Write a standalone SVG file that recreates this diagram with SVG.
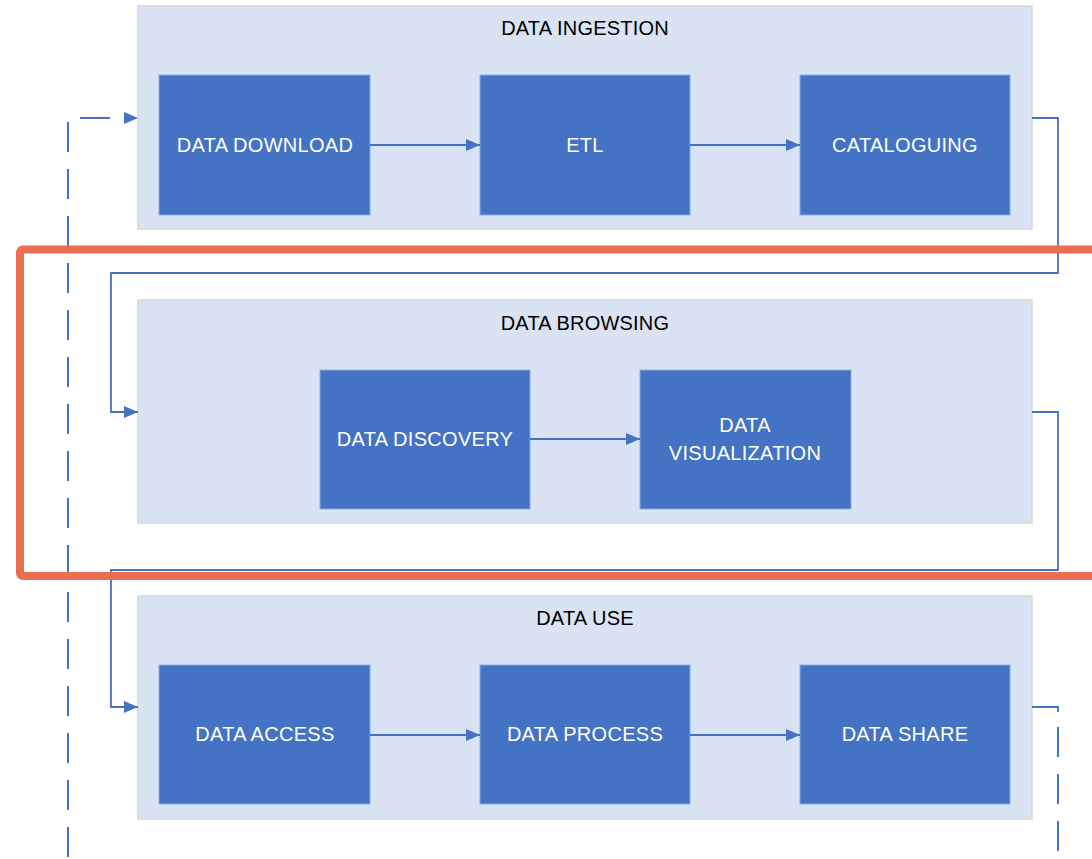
<svg xmlns="http://www.w3.org/2000/svg" width="1092" height="859" viewBox="0 0 1092 859">
  <style>
    .group { fill: #DAE3F3; stroke: #D3D6DC; stroke-width: 1.5; }
    .step { fill: #4472C4; stroke: #8FA9DC; stroke-width: 1; }
    .title { font-family: "Liberation Sans", Arial, sans-serif; font-size: 20px; letter-spacing: 0.2px; fill: #000; text-anchor: middle; }
    .label { font-family: "Liberation Sans", Arial, sans-serif; font-size: 20px; letter-spacing: 0.3px; fill: #fff; text-anchor: middle; }
    .flow { fill: none; stroke: #4472C4; stroke-width: 1.8; }
    .dash { fill: none; stroke: #4472C4; stroke-width: 2; stroke-dasharray: 30 17; }
    .focus { fill: none; stroke: #EB6E50; stroke-width: 8; }
  </style>
  <defs>
    <marker id="arrow" viewBox="0 0 14 12" refX="14" refY="6" markerWidth="14" markerHeight="12" markerUnits="userSpaceOnUse" orient="auto">
      <path d="M0,0 L14,6 L0,12 Z" fill="#4472C4"/>
    </marker>
  </defs>

  <rect width="1092" height="859" fill="#fff"/>

  <!-- Stage: ingestion -->
  <g id="data-ingestion">
    <rect class="group" x="138" y="6" width="894" height="223"/>
    <text class="title" x="585" y="35">DATA INGESTION</text>
  </g>
  <g id="data-download">
    <rect class="step" x="159" y="75" width="211" height="140"/>
    <text class="label" x="265" y="152">DATA DOWNLOAD</text>
  </g>
  <g id="etl">
    <rect class="step" x="480" y="75" width="210" height="140"/>
    <text class="label" x="585" y="152">ETL</text>
  </g>
  <g id="cataloguing">
    <rect class="step" x="800" y="75" width="210" height="140"/>
    <text class="label" x="905" y="152">CATALOGUING</text>
  </g>

  <!-- Stage: browsing -->
  <g id="data-browsing">
    <rect class="group" x="138" y="300" width="894" height="223"/>
    <text class="title" x="585" y="330">DATA BROWSING</text>
  </g>
  <g id="data-discovery">
    <rect class="step" x="320" y="370" width="210" height="139"/>
    <text class="label" x="425" y="446">DATA DISCOVERY</text>
  </g>
  <g id="data-visualization">
    <rect class="step" x="640" y="370" width="211" height="139"/>
    <text class="label" x="745" y="432">DATA</text>
    <text class="label" x="745" y="460">VISUALIZATION</text>
  </g>

  <!-- Stage: use -->
  <g id="data-use">
    <rect class="group" x="138" y="596" width="894" height="223"/>
    <text class="title" x="585" y="625">DATA USE</text>
  </g>
  <g id="data-access">
    <rect class="step" x="159" y="665" width="211" height="139"/>
    <text class="label" x="265" y="741">DATA ACCESS</text>
  </g>
  <g id="data-process">
    <rect class="step" x="480" y="665" width="210" height="139"/>
    <text class="label" x="585" y="741">DATA PROCESS</text>
  </g>
  <g id="data-share">
    <rect class="step" x="800" y="665" width="210" height="139"/>
    <text class="label" x="905" y="741">DATA SHARE</text>
  </g>

  <!-- Connectors -->
  <g id="connectors">
    <line class="flow" x1="370" y1="145" x2="480" y2="145" marker-end="url(#arrow)"/>
    <line class="flow" x1="690" y1="145" x2="800" y2="145" marker-end="url(#arrow)"/>
    <line class="flow" x1="530" y1="439" x2="640" y2="439" marker-end="url(#arrow)"/>
    <line class="flow" x1="370" y1="735" x2="480" y2="735" marker-end="url(#arrow)"/>
    <line class="flow" x1="690" y1="735" x2="800" y2="735" marker-end="url(#arrow)"/>

    <polyline class="flow" points="1032,118 1058,118 1058,273 111,273 111,412 138,412" marker-end="url(#arrow)"/>
    <polyline class="flow" points="1032,412 1058,412 1058,570 111,570 111,707 138,707" marker-end="url(#arrow)"/>
    <polyline class="flow" points="1032,707 1058,707 1058,712"/>

    <!-- loop back to the start -->
    <line class="dash" x1="1058" y1="727" x2="1058" y2="859"/>
    <line class="dash" x1="68" y1="122" x2="68" y2="859"/>
    <line class="dash" x1="80" y1="118" x2="124" y2="118" stroke-dasharray="30 40"/>
    <path d="M124,112 L138,118 L124,124 Z" fill="#4472C4"/>
  </g>

  <!-- Highlight frame -->
  <rect class="focus" x="20" y="249.5" width="1090" height="326.5" rx="3"/>
</svg>
